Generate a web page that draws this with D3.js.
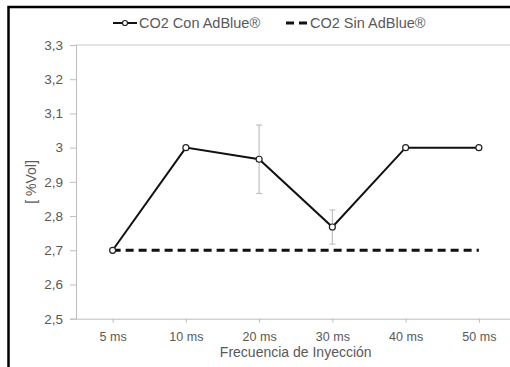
<!DOCTYPE html>
<html><head><meta charset="utf-8">
<script src="https://cdn.jsdelivr.net/npm/d3@7"></script>
<style>
html,body{margin:0;padding:0;background:#fff;}
svg{display:block;font-family:"Liberation Sans",Arial,sans-serif;}
</style></head>
<body>
<svg id="c" width="510" height="367"></svg>
<script>
const categories = ["5 ms","10 ms","20 ms","30 ms","40 ms","50 ms"];
const conAdBlue = [2.70, 3.00, 2.966, 2.768, 3.00, 3.00];
const conAdBlueErr = [0, 0, 0.10, 0.05, 0, 0];
const sinAdBlue = [2.70, 2.70, 2.70, 2.70, 2.70, 2.70];
const yTicks = [2.5,2.6,2.7,2.8,2.9,3.0,3.1,3.2,3.3];
const seriesNames = ["CO2 Con AdBlue®", "CO2 Sin AdBlue®"];
const xTitle = "Frecuencia de Inyección";
const yTitle = "[ %Vol]";

const svg = d3.select("#c");
const L = 76, R = 515.5, T = 45, B = 318.7;

// frame
svg.append("path").attr("d", `M8.5,${367} L8.5,7 L510,7`).attr("fill","none")
  .attr("stroke","#000").attr("stroke-width",2.5);

const x = d3.scalePoint().domain(categories).range([L, R]).padding(0.5);
const y = d3.scaleLinear().domain([2.5, 3.3]).range([B, T]);

// top border line
svg.append("line").attr("x1",L).attr("x2",R).attr("y1",y(3.3)).attr("y2",y(3.3))
  .attr("stroke","#c8c8c8").attr("stroke-width",1);

const fmt = d => d3.format(".1f")(d).replace(".0","").replace(".",",");
const yAx = svg.append("g").attr("transform",`translate(${L},0)`)
  .call(d3.axisLeft(y).tickValues(yTicks).tickFormat(fmt).tickSize(6).tickPadding(7));
yAx.select(".domain").attr("stroke","#bdbdbd");
yAx.selectAll(".tick line").attr("stroke","#bdbdbd");
yAx.selectAll("text").attr("fill","#595959").style("font-size","13.5px");

const xAx = svg.append("g").attr("transform",`translate(0,${B})`)
  .call(d3.axisBottom(x).tickSize(4).tickPadding(9).tickSizeOuter(0));
xAx.select(".domain").attr("stroke","#bdbdbd");
xAx.selectAll(".tick line").attr("stroke","#bdbdbd");
xAx.selectAll("text").attr("fill","#595959").style("font-size","12.5px");

// titles
svg.append("text").attr("x", (L+R)/2).attr("y", 356.5).attr("text-anchor","middle")
  .attr("fill","#595959").style("font-size","14px").text(xTitle);
svg.append("text").attr("transform",`translate(36,182) rotate(-90)`).attr("text-anchor","middle")
  .attr("fill","#595959").style("font-size","14px").text(yTitle);

// dashed series
const line = d3.line().x((d,i)=>x(categories[i])).y(d=>y(d));
svg.append("path").datum(sinAdBlue).attr("d", line).attr("fill","none")
  .attr("stroke","#111").attr("stroke-width",3).attr("stroke-dasharray","8,5");

// error bars
const eb = svg.append("g");
categories.forEach((c,i)=>{
  const e = conAdBlueErr[i]; if(!e) return;
  const cx = x(c), y1 = y(conAdBlue[i]+e), y2 = y(conAdBlue[i]-e);
  eb.append("line").attr("x1",cx).attr("x2",cx).attr("y1",y1).attr("y2",y2).attr("stroke","#c0c0c0").attr("stroke-width",1.2);
  [y1,y2].forEach(yy=>eb.append("line").attr("x1",cx-3).attr("x2",cx+3).attr("y1",yy).attr("y2",yy).attr("stroke","#c0c0c0").attr("stroke-width",1.2));
});

// solid series
svg.append("path").datum(conAdBlue).attr("d", line).attr("fill","none")
  .attr("stroke","#111").attr("stroke-width",2);
svg.selectAll("circle.m").data(conAdBlue).enter().append("circle").attr("class","m")
  .attr("cx",(d,i)=>x(categories[i])).attr("cy",d=>y(d)).attr("r",3)
  .attr("fill","#fff").attr("stroke","#222").attr("stroke-width",1.2);

// legend
const lg = svg.append("g");
const ly = 23;
lg.append("line").attr("x1",113).attr("x2",137).attr("y1",ly).attr("y2",ly).attr("stroke","#111").attr("stroke-width",2);
lg.append("circle").attr("cx",125).attr("cy",ly).attr("r",2.5).attr("fill","#fff").attr("stroke","#222").attr("stroke-width",1.2);
lg.append("text").attr("x",139).attr("y",ly+5).attr("fill","#595959").style("font-size","14.5px").text(seriesNames[0]);
lg.append("line").attr("x1",286).attr("x2",308).attr("y1",ly).attr("y2",ly).attr("stroke","#111").attr("stroke-width",3).attr("stroke-dasharray","8,5");
lg.append("text").attr("x",310).attr("y",ly+5).attr("fill","#595959").style("font-size","14.5px").text(seriesNames[1]);
</script>
</body></html>
